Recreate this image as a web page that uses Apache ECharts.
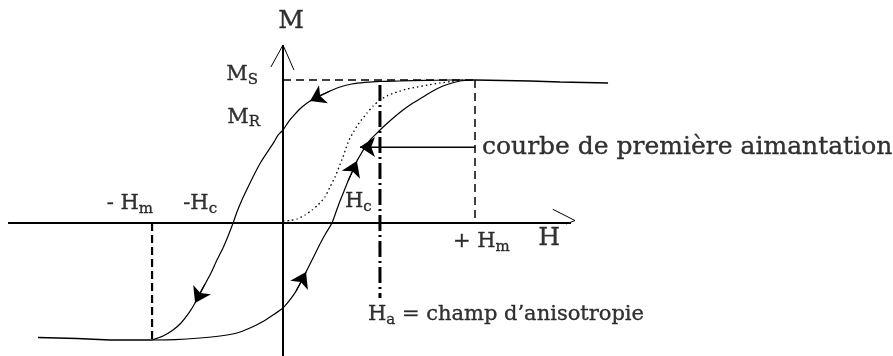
<!DOCTYPE html>
<html>
<head>
<meta charset="utf-8">
<script src="https://cdn.jsdelivr.net/npm/echarts@6/dist/echarts.min.js"></script>
<style>
  html, body { margin: 0; padding: 0; background: #fff; }
  #chart { width: 893px; height: 356px; }
</style>
</head>
<body>
<div id="chart"></div>
<script>
// Hysteresis loop M(H) in reduced units: H in units of Hm, M in units of Ms.
const hmPos = 1;          // +Hm
const hmNeg = -0.682;     // -Hm
const msTop = 1;          // Ms
const msBottom = -0.818;  // lower saturation level
const mRem = 0.65;        // Mr
const hcNeg = -0.26;      // -Hc
const hcPos = 0.255;      // Hc
const hAnis = 0.505;      // Ha

// Descending branch (from +Hm back to -Hm)
const descH = [1.0, 0.870, 0.740, 0.609, 0.505, 0.427, 0.359, 0.297, 0.245, 0.193, 0.141, 0.099, 0.0625, 0.031, 0,
  -0.026, -0.047, -0.078, -0.115, -0.146, -0.182, -0.214, -0.240, -0.260, -0.286, -0.3125, -0.344, -0.375, -0.406,
  -0.432, -0.458, -0.490, -0.531, -0.573, -0.625, -0.682];
const descM = [1.0, 1.0, 0.997, 0.993, 0.990, 0.983, 0.972, 0.951, 0.923, 0.892, 0.853, 0.811, 0.762, 0.713, 0.650,
  0.615, 0.566, 0.503, 0.427, 0.350, 0.252, 0.161, 0.077, 0, -0.091, -0.175, -0.259, -0.350, -0.427,
  -0.490, -0.559, -0.629, -0.699, -0.748, -0.790, -0.818];

// Ascending branch (from -Hm up to +Hm)
const ascH = [-0.682, -0.5625, -0.432, -0.328, -0.240, -0.172, -0.109, -0.052, 0, 0.036, 0.068, 0.094, 0.120, 0.146,
  0.172, 0.198, 0.224, 0.255, 0.276, 0.297, 0.318, 0.339, 0.365, 0.385, 0.406, 0.427, 0.453, 0.484, 0.516, 0.568,
  0.625, 0.677, 0.729, 0.781, 0.833, 0.880, 0.922, 1.0];
const ascM = [-0.818, -0.815, -0.804, -0.790, -0.769, -0.734, -0.692, -0.643, -0.594, -0.538, -0.476, -0.413, -0.343,
  -0.273, -0.203, -0.133, -0.070, 0, 0.077, 0.154, 0.224, 0.294, 0.371, 0.434, 0.483, 0.531, 0.580, 0.622, 0.664,
  0.727, 0.790, 0.839, 0.881, 0.923, 0.958, 0.979, 0.993, 1.0];

// First magnetization curve, starting at the origin
const firstH = [0, 0.036, 0.073, 0.115, 0.151, 0.182, 0.219, 0.245, 0.271, 0.292, 0.3125, 0.328, 0.344, 0.370, 0.396,
  0.4375, 0.469, 0.505, 0.547, 0.594, 0.646, 0.698, 0.755, 0.818, 0.880, 0.948];
const firstM = [0.014, 0.017, 0.028, 0.056, 0.091, 0.126, 0.182, 0.252, 0.322, 0.392, 0.462, 0.524, 0.580, 0.643,
  0.699, 0.769, 0.818, 0.860, 0.892, 0.916, 0.937, 0.951, 0.965, 0.979, 0.990, 1.0];

// Saturated tails beyond ±Hm
const tailRightH = [1.0, 1.286, 1.443, 1.693];
const tailRightM = [1.0, 0.993, 0.986, 0.979];
const tailLeftH = [-1.276, -1.073, -0.901, -0.682];
const tailLeftM = [-0.801, -0.808, -0.818, -0.818];

// Axis extents
const hAxisFrom = -1.432, hAxisTo = 1.50, hAxisTip = 1.521;
const mAxisFrom = -0.93, mAxisTo = 1.245;

// Anisotropy field marker and pointer to the first magnetization curve
const haTopM = 0.965, haBottomM = -0.524;
const pointerM = 0.531, pointerTipH = 0.401;

// Direction arrows on the loop: [branch, from index, to index]
const loopArrows = [['desc', 8, 10], ['desc', 28, 30], ['asc', 10, 12], ['asc', 21, 23]];

// Label texts
const txtM = 'M';
const txtH = 'H';
const txtMs = ['M', 'S'];
const txtMr = ['M', 'R'];
const txtHmNeg = ['- H', 'm'];
const txtHcNeg = ['-H', 'c'];
const txtHcPos = ['H', 'c'];
const txtHmPos = ['+ H', 'm'];
const txtHa = ['H', 'a', ' = champ d\u2019anisotropie'];
const txtFirst = 'courbe de première aimantation';

const zip = (a, b) => a.map((v, i) => [v, b[i]]);
const branches = { desc: zip(descH, descM), asc: zip(ascH, ascM) };

const FONT = 'DejaVu Serif';
const ink = '#000';

function path(data, width, dash, smooth) {
  return {
    type: 'line', data, showSymbol: false, symbol: 'none', silent: true,
    smooth: smooth || false, animation: false, z: 2,
    lineStyle: { color: ink, width, type: dash || 'solid', cap: 'butt' }
  };
}

const glyph = (size, lh, extra) => Object.assign({
  fontFamily: FONT, fontSize: size, lineHeight: lh, color: ink, textBorderColor: ink, textBorderWidth: 0.35
}, extra || {});

const rich = {
  big: glyph(25, 28),
  t: glyph(21, 26),
  s: glyph(15, 12, { verticalAlign: 'bottom' }),
  txt: glyph(25, 28),
  ha: glyph(21, 26)
};

function lab(coord, text, align, offset) {
  return {
    value: coord,
    label: {
      show: true, position: 'inside', align, verticalAlign: 'middle', offset, formatter: text,
      color: ink, fontFamily: FONT, rich
    }
  };
}

const sub = (p) => '{t|' + p[0] + '}{s|' + p[1] + '}';

const labels = [
  lab([0, mAxisTo], '{big|' + txtM + '}', 'center', [8, -23]),
  lab([hAxisTip, 0], '{big|' + txtH + '}', 'center', [-26, 15]),
  lab([0, msTop], sub(txtMs), 'right', [-25, -5]),
  lab([0, mRem], sub(txtMr), 'right', [-23, -13]),
  lab([hmNeg, 0], sub(txtHmNeg), 'right', [1, -19]),
  lab([hcNeg, 0], sub(txtHcNeg), 'right', [-16, -19]),
  lab([hcPos, 0], sub(txtHcPos), 'left', [13, -21]),
  lab([hmPos, 0], sub(txtHmPos), 'left', [-22, 19]),
  lab([hAnis, haBottomM], '{t|' + txtHa[0] + '}{s|' + txtHa[1] + '}{ha|' + txtHa[2] + '}', 'left', [-12, 17]),
  lab([hmPos, pointerM], '{txt|' + txtFirst + '}', 'left', [7, 0])
];

const arrowLines = loopArrows.map(([b, i, j]) => ({ coords: [branches[b][i], branches[b][j]] }));
arrowLines.push({ coords: [[hmPos, pointerM], [pointerTipH, pointerM]] });

const chart = echarts.init(document.getElementById('chart'), null, { renderer: 'canvas' });
chart.setOption({
  backgroundColor: '#fff',
  animation: false,
  grid: { left: 4.6, right: 5.2, top: 1.35, bottom: 0 },
  xAxis: { type: 'value', min: -1.45, max: 3.15, show: false },
  yAxis: { type: 'value', min: -0.93, max: 1.55, show: false },
  series: [
    // axes
    path([[hAxisFrom, 0], [hAxisTo, 0]], 2),
    path([[0, mAxisFrom], [0, mAxisTo]], 2),
    path([[-0.063, 1.091], [0, mAxisTo], [0.057, 1.07]], 1),
    path([[1.405, 0.096], [hAxisTip, 0.017], [1.474, -0.007]], 1),
    // construction lines
    path([[0, msTop], [hmPos, msTop]], 1.5, [8, 5]),
    path([[hmPos, msTop], [hmPos, 0]], 1.5, [8, 5]),
    path([[hmNeg, 0], [hmNeg, msBottom]], 2.2, [8, 4]),
    path([[hAnis, haTopM], [hAnis, haBottomM]], 3, [16, 4, 2, 4]),
    // pointer
    path([[hmPos, pointerM], [pointerTipH, pointerM]], 1.2),
    // loop and first magnetization
    path(zip(tailLeftH, tailLeftM), 1.6),
    path(zip(tailRightH, tailRightM), 1.6),
    path(branches.desc, 1.2, 'solid', 0.2),
    path(branches.asc, 1.2, 'solid', 0.2),
    path(zip(firstH, firstM), 1.3, [1.5, 3], 0.2),
    {
      type: 'lines', coordinateSystem: 'cartesian2d', silent: true, animation: false, z: 3,
      symbol: ['none', 'arrow'], symbolSize: 15,
      lineStyle: { color: ink, width: 1.2, opacity: 1 },
      data: arrowLines
    },
    {
      type: 'scatter', silent: true, animation: false, z: 4,
      symbolSize: 1, itemStyle: { color: 'rgba(0,0,0,0)' },
      data: labels
    }
  ]
});
</script>
</body>
</html>
